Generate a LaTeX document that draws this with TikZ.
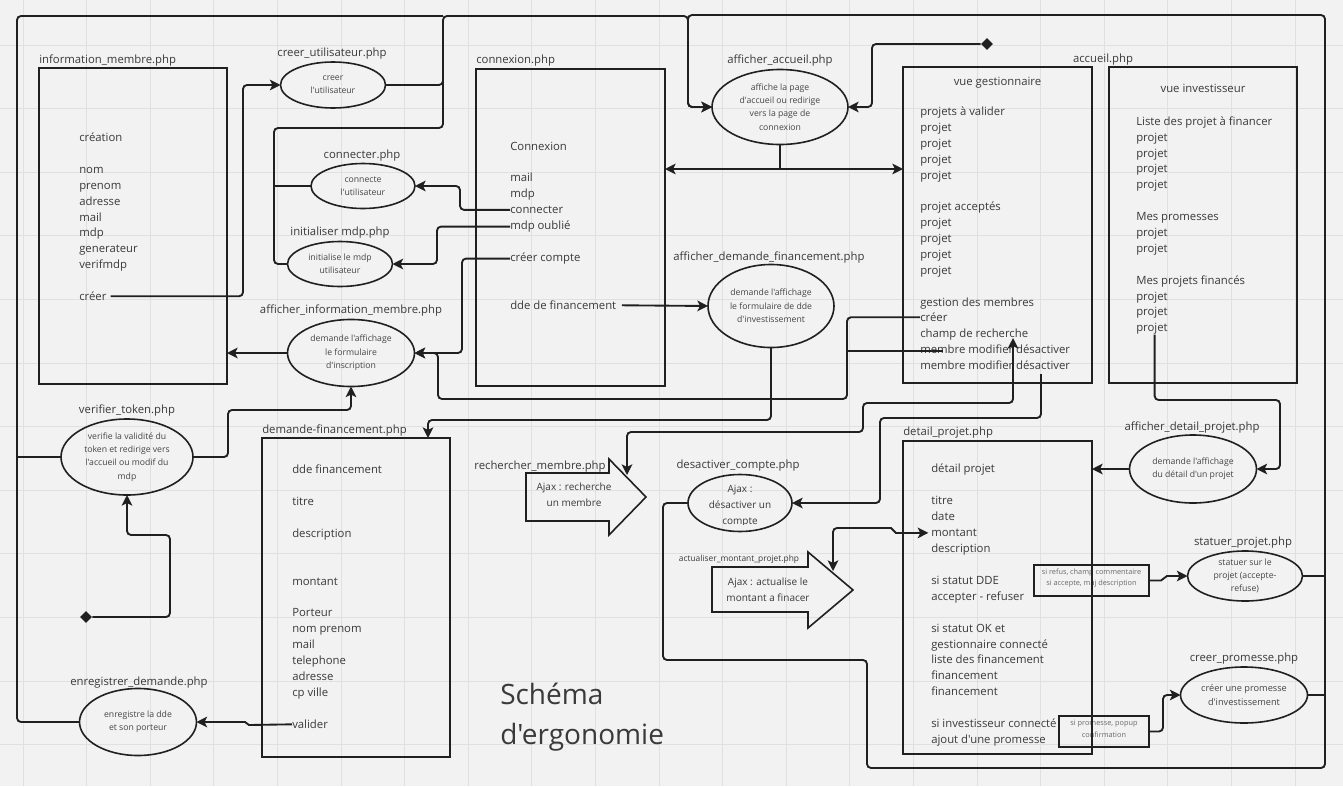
\documentclass[tikz,border=0pt]{standalone}
\usepackage{fontspec}
\setmainfont{Open Sans}[Ligatures=TeXOff]
\usetikzlibrary{arrows.meta,shapes.geometric,fit,calc}
\definecolor{bgc}{HTML}{F2F2F2}
\definecolor{gridc}{HTML}{E0E0E0}
\definecolor{ink}{HTML}{202020}
\definecolor{txt}{HTML}{3A3A3A}
\definecolor{soft}{HTML}{454545}
\definecolor{faint}{HTML}{6A6A6A}
\tikzset{
  ah/.tip={Stealth[length=8pt,width=8pt,inset=2pt]},
  conn/.style={draw=ink, line width=1.4pt, rounded corners=3pt},
  arr/.style={conn, -ah},
  arrb/.style={conn, ah-ah},
  box/.style={draw=ink, line width=1.2pt, inner sep=0pt, outer sep=0pt},
  ell/.style 2 args={ellipse, draw=ink, line width=1.2pt, inner sep=0pt, outer sep=0pt,
     minimum width=#1*0.75pt, minimum height=#2*0.75pt, align=center, text=soft,
     font=\fontsize{6.5}{10}\selectfont},
  itm/.style={anchor=mid west, inner sep=0pt, text=txt, font=\fontsize{8.5}{12}\selectfont},
  lbl/.style={anchor=mid, inner sep=0pt, text=txt, font=\fontsize{8.5}{12}\selectfont},
  lblw/.style={lbl, anchor=mid west},
  ajax/.style={align=center, inner sep=0pt, text=txt, font=\fontsize{7.5}{12}\selectfont},
  note/.style={box, line width=1.1pt, align=center, text=faint, font=\fontsize{5.5}{8.3}\selectfont},
  dia/.style={diamond, fill=ink, inner sep=0pt, minimum size=9pt}
}
\begin{document}
\begin{tikzpicture}[x=0.75pt,y=-0.75pt]
\fill[bgc] (0,0) rectangle (1343,786);
\useasboundingbox (0,0) rectangle (1343,786);
\foreach \k in {0,...,20} \draw[gridc,line width=0.6pt] ({23+63.6*\k},0) -- ({23+63.6*\k},786);
\foreach \k in {0,...,11} \draw[gridc,line width=0.6pt] (0,{45+63.6*\k}) -- (1343,{45+63.6*\k});

% ---------- boxes
\node[box, fit={(39,68) (227,384)}] (im) {};
\node[box, fit={(476,69) (665,386)}] (cx) {};
\node[box, fit={(903,67) (1092,383)}] (vg) {};
\node[box, fit={(1109,67) (1297,383)}] (vi) {};
\node[box, fit={(262,438) (450,757)}] (df) {};
\node[note, fit={(1034,565) (1149,596)}] (sb1) {si refus, champ commentaire\\si accepte, maj description};
\node[note, fit={(1059,716) (1149,747)}] (sb2) {si promesse, popup\\confirmation};
\node[box, fit={(903,441) (1092,754)}] (dp) {};

% ---------- labels
\node[lblw] (lIm) at (39,60) {information\_membre.php};
\node[lbl] (lCu) at (332,53) {creer\_utilisateur.php};
\node[lbl] (lCn) at (362,155) {connecter.php};
\node[lbl] (lIni) at (340,232) {initialiser mdp.php};
\node[lbl] (lAim) at (351,310) {afficher\_information\_membre.php};
\node[lbl] (lVt) at (127,410) {verifier\_token.php};
\node[lbl] (lEd) at (139,682) {enregistrer\_demande.php};
\node[lblw] (lCx) at (476,60) {connexion.php};
\node[lbl] (lAa) at (780,60) {afficher\_accueil.php};
\node[lbl] (lAdf) at (769,257) {afficher\_demande\_financement.php};
\node[lbl] (lAcc) at (1103,59) {accueil.php};
\node[lblw] (lDf) at (262,430) {demande-financement.php};
\node[lbl] (lRm) at (540,466) {rechercher\_membre.php};
\node[lbl] (lDc) at (738,465) {desactiver\_compte.php};
\node[lbl, font=\fontsize{6.3}{9}\selectfont] (lAm) at (739,558) {actualiser\_montant\_projet.php};
\node[lblw] (lDp) at (903,432) {detail\_projet.php};
\node[lbl] (lAdp) at (1192,427) {afficher\_detail\_projet.php};
\node[lbl] (lSp) at (1243,542) {statuer\_projet.php};
\node[lbl] (lCp) at (1244,658) {creer\_promesse.php};
\node[lbl] (gT) at (997.5,82) {vue gestionnaire};
\node[lbl] (vT) at (1203,89) {vue investisseur};

% ---------- box texts
\foreach \n/\y/\s in {iCrea/138/création, iNom/170/nom, iPre/186/prenom, iAdr/202/adresse,
  iMail/218/mail, iMdp/233/mdp, iGen/249/generateur, iVer/265/verifmdp, iCreer/297/créer}
  \node[itm] (\n) at (79,\y) {\s};
\foreach \n/\y/\s in {cTit/147/Connexion, cMail/178/mail, cMdp/194/mdp, cConn/210/connecter,
  cOubl/226/mdp oublié, cCreer/258/créer compte, cDde/306/dde de financement}
  \node[itm] (\n) at (510,\y) {\s};
\foreach \n/\y/\s in {g1/112/projets à valider, g2/128/projet, g3/144/projet, g4/160/projet, g5/176/projet,
  g6/207/projet acceptés, g7/223/projet, g8/239/projet, g9/255/projet, g10/271/projet,
  g11/303/gestion des membres, gCreer/318/créer, gChamp/334/champ de recherche,
  gMod1/350/membre modifier désactiver, gMod2/366/membre modifier désactiver}
  \node[itm] (\n) at (920,\y) {\s};
\foreach \n/\y/\s in {v1/122/Liste des projet à financer, v2/138/projet, v3/154/projet, v4/169/projet,
  v5/185/projet, v6/217/Mes promesses, v7/233/projet, v8/249/projet, v9/281/Mes projets financés,
  v10/297/projet, v11/312/projet, v12/328/projet}
  \node[itm] (\n) at (1136,\y) {\s};
\foreach \n/\y/\s in {d1/470/dde financement, d2/502/titre, d3/534/description, d4/582/montant,
  d5/613/Porteur, d6/629/nom prenom, d7/645/mail, d8/661/telephone, d9/677/adresse,
  d10/693/cp ville, dValider/725/valider}
  \node[itm] (\n) at (292,\y) {\s};
\foreach \n/\y/\s in {p1/469/détail projet, p2/501/titre, p3/517/date, pMontant/533/montant,
  p5/549/description, p6/581/si statut DDE, p7/597/accepter - refuser, p8/629/si statut OK et,
  p9/645/gestionnaire connecté, p10/660/liste des financement, p11/676/financement,
  p12/692/financement, p13/724/si investisseur connecté, p14/740/ajout d'une promesse}
  \node[itm] (\n) at (931,\y) {\s};

% ---------- ellipses
\node[ell={105}{46}] (cu) at (333,85) {creer\\l'utilisateur};
\node[ell={104}{45}] (cn) at (363,186) {connecte\\l'utilisateur};
\node[ell={105}{45}] (ini) at (340,264) {initialise le mdp\\utilisateur};
\node[ell={127}{67}] (aim) at (351,353) {demande l'affichage\\le formulaire\\d'inscription};
\node[ell={132}{76}] (vt) at (127,457) {verifie la validité du\\token et redirige vers\\l'accueil ou modif du\\mdp};
\node[ell={117}{67}] (ed) at (138,722) {enregistre la dde\\et son porteur};
\node[ell={136}{75}] (aa) at (780,107) {affiche la page\\d'accueil ou redirige\\vers la page de\\connexion};
\node[ell={126}{83}] (adf) at (771,306) {demande l'affichage\\le formulaire de dde\\d'investissement};
\node[ell={104}{57}] (dc) at (740,503) {};
\begin{scope}
  \clip (690,470) rectangle (790,524);
  \node[ajax] (dcT) at (740,506) {Ajax :\\désactiver un\\compte};
\end{scope}
\node[ell={127}{68}] (adp) at (1193,469) {demande l'affichage\\du détail d'un projet};
\node[ell={115}{50}] (sp) at (1245,576) {statuer sur le\\projet (accepte-\\refuse)};
\node[ell={127}{56}, font=\fontsize{6.9}{10.5}\selectfont] (cp) at (1244,695) {créer une promesse\\d'investissement};

% ---------- block arrows
\draw[box] (526,473) -- (609,473) -- (609,459) -- (646,497) -- (609,535) -- (609,521) -- (526,521) -- cycle;
\node[ajax] (rm) at (574,495) {Ajax : recherche\\un membre};
\draw[box] (712,567) -- (808,567) -- (808,552) -- (853,590) -- (808,628) -- (808,612) -- (712,612) -- cycle;
\node[ajax] (am) at (768,590) {Ajax : actualise le\\montant a finacer};

% ---------- diamonds
\node[dia] (dia1) at (987,44) {};
\node[dia] (dia2) at (86,617) {};

% ---------- title
\node[anchor=west, align=left, inner sep=0pt, text=txt, font=\fontsize{21}{29.5}\selectfont] (title) at (500,717) {Schéma\\d'ergonomie};

% ---------- free-end coordinates
\coordinate (aaS) at (780,169);
\coordinate (gChampIn) at (1013,338);
\coordinate (rmIn) at (627,475);
\coordinate (gModOut) at (1041,374);
\coordinate (amIn) at (833,571);
\coordinate (gMod1In) at (943,351);

% ---------- connectors
\draw[arr] ([xshift=3pt]iCreer.east) -| (243,85) -- (cu.west);
\draw[arr] (cu.east) -| (443,16) -| (688,107) -- (aa.west);
\draw[conn] (443,16) -| (17,722) -- (ed.west);
\draw[conn] (vt.west) -- (17,457);
\draw[conn] (443,80) |- (274,128) |- (ini.west);
\draw[conn] (cn.west) -- (274,186);
\draw[arr] (cConn.west) -| (460,186) -- (cn.east);
\draw[arr] (cOubl.west) -| (437,264) -- (ini.east);
\draw[arr] (cCreer.west) -| (462,353) -- (aim.east);
\draw[arr] (gCreer.west) -| (847,399) -| (438,353) -- (aim.east);
\draw[conn] (gMod1In) -- (847,351);
\draw[arr] ([xshift=4pt]cDde.east) -- (adf.west);
\draw[arr] (adf.south) |- (428,420) -- ($(df.north west)+(166,0)$);
\draw[arr] (vt.east) -| (228,410) -| (aim.south);
\draw[arr] (aim.west) -- (aim.west -| im.east);
\draw[arr] (dia2.east) -| (170,535) -| (vt.south);
\draw[arr, sharp corners] (dValider.west) -- (249,725) -- (245,722) -- (ed.east);
\draw[conn] (aa.south) -- (aaS);
\draw[arr] (aaS) -- (aaS -| cx.east);
\draw[arr] (aaS) -- (aaS -| vg.west);
\draw[arr] (dia1.west) -| (872,107) -- (aa.east);
\draw[arr] (dc.west) -| (663,660) -| (867,768) -| (1325,15) -| (688,107) -- (aa.west);
\draw[conn] (sp.east) -- (1325,576);
\draw[conn] (cp.east) -- (1325,695);
\draw[arrb] (gChampIn) -- (1013,403) -| (863,432) -| (rmIn);
\draw[arr] (gModOut) |- (880,418) |- (dc.east);
\draw[arrb, sharp corners] ([xshift=-2pt]pMontant.west) -- (896,533) -- (891,528) [rounded corners=3pt] -| (amIn);
\draw[arr] ([xshift=2pt]v12.south) |- (1280,400) |- (adp.east);
\draw[arr] (adp.west) -- (adp.west -| dp.east);
\draw[arr, sharp corners] (sb1.east) -- (1161,580.5) -- (1167,576) -- (sp.west);
\draw[arr] (sb2.east) -| (1163,695) -- (cp.west);
\end{tikzpicture}
\end{document}
